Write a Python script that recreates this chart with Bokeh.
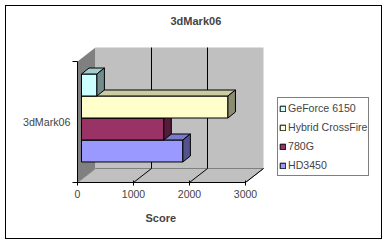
from bokeh.plotting import figure
from bokeh.models import (Range1d, FixedTicker, Legend, LegendItem, Title, InlineStyleSheet)
from bokeh.embed import file_html
from bokeh.resources import INLINE

# ---- data ----
categories = ["3dMark06"]
series = ["GeForce 6150", "Hybrid CrossFire", "780G", "HD3450"]
values = [275, 2615, 1470, 1810]
colors = ["#CCFFFF", "#FFFFCC", "#993366", "#9999FF"]
x_ticks = [0, 1000, 2000, 3000]
x_title = "Score"
chart_title = "3dMark06"

# ---- layout constants (pixels) ----
W, H = 387, 243
FL, FR, FT, FB = 77, 387, 35, 182
X_MAX = x_ticks[-1]
X_MAX_PX = 245
xscale = (X_MAX_PX - FL) / X_MAX
yscale = 121.0  # px per category band

def dx(px):
    return px / xscale

def dy(px):
    return px / yscale

WALL_DX, WALL_DY = dx(18), dy(14)
BAR_OX, BAR_OY = dx(4), dy(4)
BAR_DX, BAR_DY = dx(7.5), dy(6)
GROUP_FRAC = 0.727
FONT = "Liberation Sans"


def shade(hexcol, f):
    h = hexcol.lstrip("#")
    r, g, b = (int(h[i:i + 2], 16) for i in (0, 2, 4))
    return "#%02x%02x%02x" % (int(r * f), int(g * f), int(b * f))


p = figure(width=W, height=H, output_backend="svg", toolbar_location=None,
           x_range=Range1d(0, (FR - FL) / xscale),
           y_range=Range1d(0, (FB - FT) / yscale),
           min_border_left=FL, min_border_right=W - FR,
           min_border_top=FT, min_border_bottom=H - FB)
p.outline_line_color = None
p.background_fill_color = "white"
p.border_fill_color = "white"
p.grid.visible = False

# outer chart border, 5px inside the canvas edge
border_css = """
:host { position: relative; }
:host::after {
  content: ""; position: absolute; left: 5px; top: 5px;
  width: 377px; height: 234px; box-sizing: border-box;
  border: 1px solid black; pointer-events: none; z-index: 100;
}
"""
p.stylesheets = [InlineStyleSheet(css=border_css)]

# title
p.title.text = chart_title
p.title.text_font = FONT
p.title.text_font_size = "11px"
p.title.text_font_style = "bold"
p.title.align = "left"
p.title.offset = 93
p.title.standoff = 18

# ---- 3D walls ----
p.patch([0, 0, WALL_DX, WALL_DX], [0, 1, 1 + WALL_DY, WALL_DY],
        fill_color="#808080", line_color=None)
p.patch([WALL_DX, X_MAX + WALL_DX, X_MAX + WALL_DX, WALL_DX],
        [WALL_DY, WALL_DY, 1 + WALL_DY, 1 + WALL_DY],
        fill_color="#C0C0C0", line_color=None)
p.patch([0, X_MAX, X_MAX + WALL_DX, WALL_DX], [0, 0, WALL_DY, WALL_DY],
        fill_color="#C0C0C0", line_color="#808080", line_width=1)

inner = [t for t in x_ticks if 0 < t < X_MAX]
p.segment(x0=[t + WALL_DX for t in inner], y0=[WALL_DY] * len(inner),
          x1=[t + WALL_DX for t in inner], y1=[1 + WALL_DY] * len(inner),
          line_color="black", line_width=1)
fl = [t for t in x_ticks if t > 0]
p.segment(x0=fl, y0=[0] * len(fl), x1=[t + WALL_DX for t in fl], y1=[WALL_DY] * len(fl),
          line_color="black", line_width=1)

# ---- 3D bars ----
n = len(series)
bh = GROUP_FRAC / n
base = BAR_OY + (1 - GROUP_FRAC) / 2
renderers = {}
for i in reversed(range(n)):
    v = values[i]
    y0 = base + (n - 1 - i) * bh
    y1 = y0 + bh
    x0 = BAR_OX
    x1 = BAR_OX + v
    xs = [[x0, x1, x1, x0],
          [x0, x1, x1 + BAR_DX, x0 + BAR_DX],
          [x1, x1 + BAR_DX, x1 + BAR_DX, x1]]
    ys = [[y0, y0, y1, y1],
          [y1, y1, y1 + BAR_DY, y1 + BAR_DY],
          [y0, y0 + BAR_DY, y1 + BAR_DY, y1]]
    c = colors[i]
    r = p.patches(xs, ys, fill_color=[c, shade(c, 0.8), shade(c, 0.55)],
                  line_color="black", line_width=1)
    renderers[i] = r

# ---- axes ----
xa = p.xaxis[0]
xa.ticker = FixedTicker(ticks=x_ticks)
xa.bounds = (0, X_MAX)
xa.major_label_text_font = FONT
xa.major_label_text_font_size = "10.5px"
xa.major_label_standoff = 4
xa.major_tick_in = 2
xa.major_tick_out = 3
xa.minor_tick_in = 0
xa.minor_tick_out = 0
xa.axis_line_color = "black"

p.add_layout(Title(text=x_title, align="left", offset=68, text_font=FONT,
                   text_font_size="11px", text_font_style="bold", standoff=19), "below")

ya = p.yaxis[0]
ya.ticker = FixedTicker(ticks=[0.5], minor_ticks=[0, 1])
ya.major_label_overrides = {0.5: categories[0]}
ya.bounds = (0, 1)
ya.major_tick_in = 0
ya.major_tick_out = 0
ya.minor_tick_in = 0
ya.minor_tick_out = 5
ya.major_label_standoff = 2
ya.major_label_text_font = FONT
ya.major_label_text_font_size = "10.7px"
ya.axis_line_color = "black"

# ---- legend ----
items = [LegendItem(label=series[i], renderers=[renderers[i]], index=0) for i in range(n)]
legend = Legend(items=items, location=(200, 6), margin=0, padding=1,
                glyph_width=7, glyph_height=7, label_height=18, spacing=1,
                label_standoff=2, label_text_font=FONT, label_text_font_size="10.6px",
                border_line_color="black", border_line_width=1,
                background_fill_color="white", background_fill_alpha=1)
p.add_layout(legend, "center")

open("out.html", "w").write(file_html(p, INLINE))
